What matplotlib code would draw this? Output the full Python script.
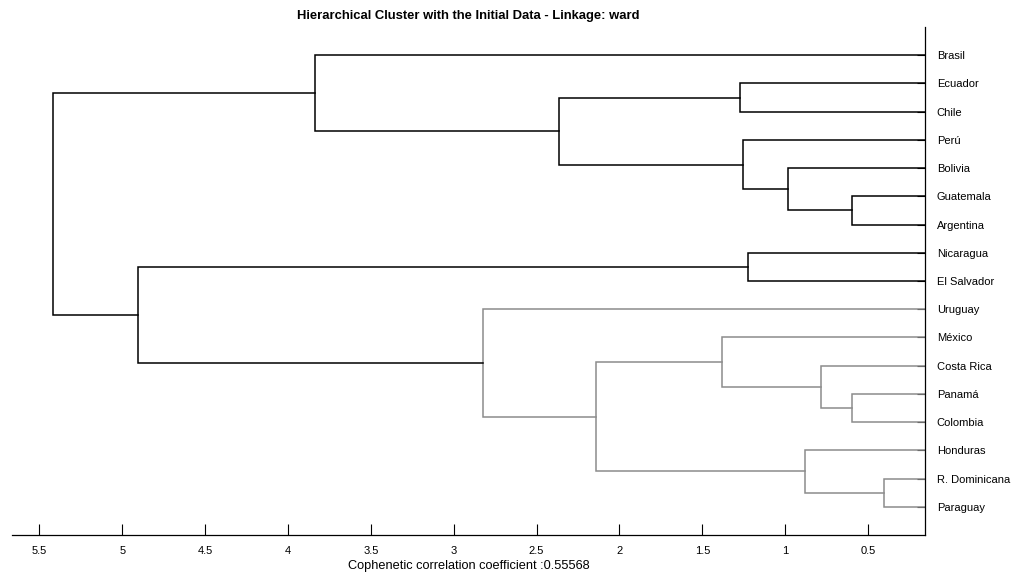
import matplotlib
matplotlib.use("Agg")
import matplotlib.pyplot as plt

plt.rcParams["font.family"] = ["Liberation Sans", "DejaVu Sans"]

# Leaf labels, top to bottom as they appear
countries = ["Brasil", "Ecuador", "Chile", "Perú", "Bolivia", "Guatemala",
             "Argentina", "Nicaragua", "El Salvador", "Uruguay", "México",
             "Costa Rica", "Panamá", "Colombia", "Honduras", "R. Dominicana",
             "Paraguay"]

# Merges: children (leaf index or new cluster index 17, 18, ...) and height
merge_left = [5, 4, 3, 1, 20, 0, 7, 12, 11, 10, 15, 14, 26, 9, 23, 22]
merge_right = [6, 17, 18, 2, 19, 21, 8, 13, 24, 25, 16, 27, 28, 29, 30, 31]
merge_height = [0.595, 0.985, 1.253, 1.274, 2.365, 3.839, 1.222, 0.594,
                0.784, 1.383, 0.402, 0.882, 2.140, 2.823, 4.904, 5.419]
# True where the link belongs to the gray cluster
merge_gray = [False, False, False, False, False, False, False, True,
              True, True, True, True, True, True, False, False]

xticks = [5.5, 5, 4.5, 4, 3.5, 3, 2.5, 2, 1.5, 1, 0.5]
coph = 0.55568

fig = plt.figure(figsize=(10.19, 5.80), dpi=100)
ax = fig.add_axes([0.0118, 0.0776, 0.8960, 0.8758])

n = len(countries)
pos = {i: i + 1 for i in range(n)}
hgt = {i: 0.0 for i in range(n)}

for k, (a, b, h, g) in enumerate(zip(merge_left, merge_right, merge_height, merge_gray)):
    col = "#8c8c8c" if g else "black"
    ya, yb = pos[a], pos[b]
    ax.plot([hgt[a], h, h, hgt[b]], [ya, ya, yb, yb], color=col, lw=1.1,
            solid_joinstyle="miter")
    pos[n + k] = (ya + yb) / 2
    hgt[n + k] = h

ax.set_xlim(5.665, 0.156)
ax.set_ylim(18, 0)

ax.spines["top"].set_visible(False)
ax.spines["left"].set_visible(False)
ax.spines["right"].set_linewidth(0.9)
ax.spines["bottom"].set_linewidth(0.9)

ax.set_xticks(xticks)
ax.set_xticklabels([f"{t:g}" for t in xticks])
ax.tick_params(axis="x", direction="in", length=8, width=0.8, pad=8,
               labelsize=8, colors="black")

ax.yaxis.tick_right()
ax.set_yticks(range(1, n + 1))
ax.set_yticklabels(countries)
ax.tick_params(axis="y", direction="in", length=6, width=0.8, pad=8.5,
               labelsize=8)

ax.set_xlabel(f"Cophenetic correlation coefficient :{coph}", fontsize=9.2,
              labelpad=3)
ax.set_title("Hierarchical Cluster with the Initial Data - Linkage: ward",
             fontsize=9.4, fontweight="bold", pad=6)

fig.savefig("out.png", dpi=100)
